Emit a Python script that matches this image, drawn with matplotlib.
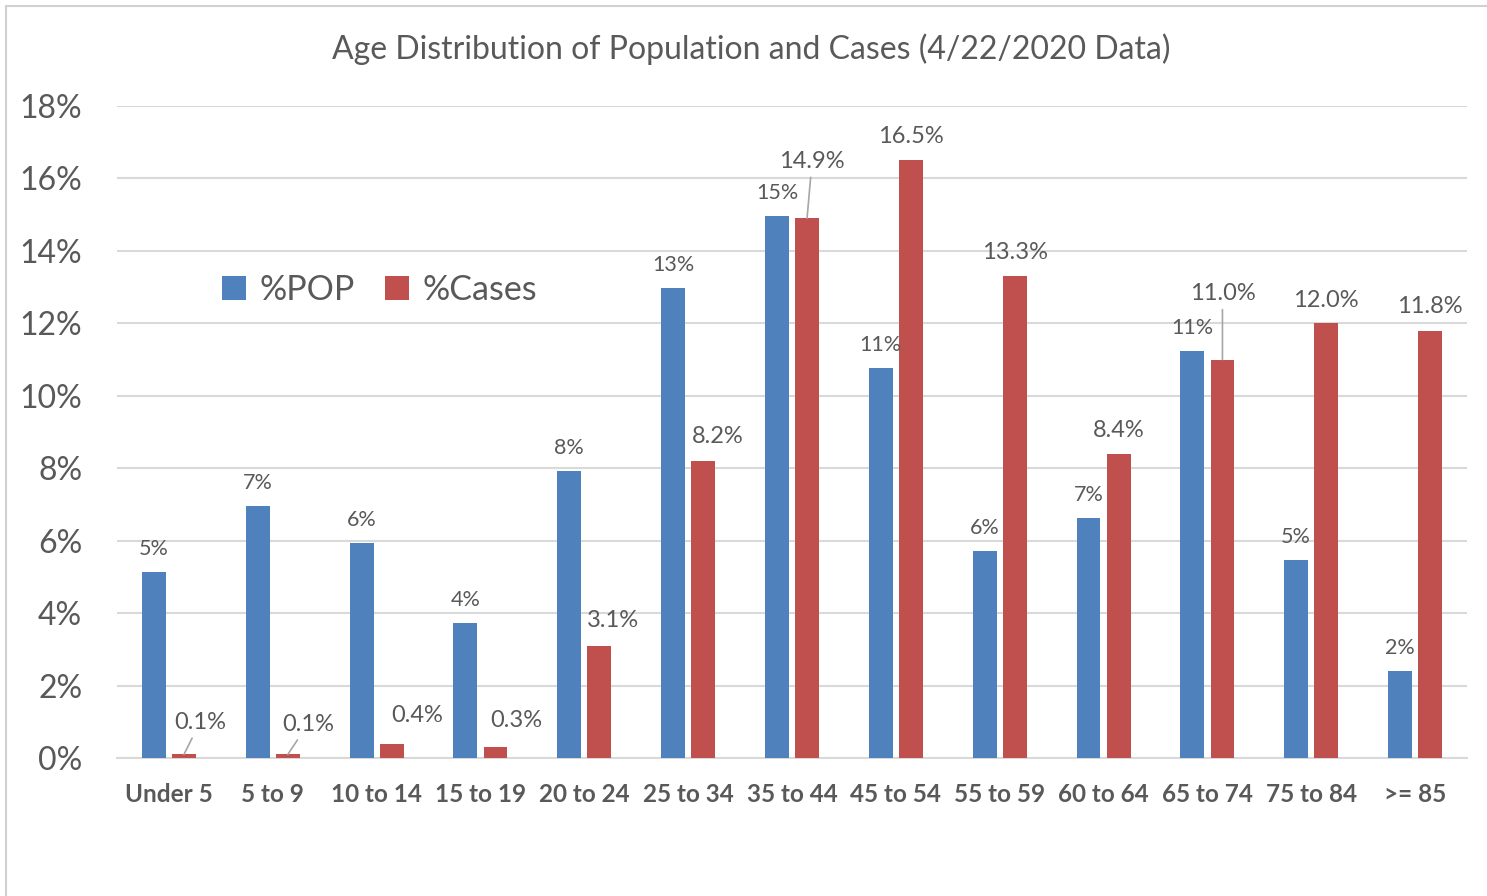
import matplotlib
matplotlib.use('Agg')
import matplotlib.pyplot as plt
import numpy as np
from matplotlib.patches import Rectangle

# 数据
categories = ['Under 5', '5 to 9', '10 to 14', '15 to 19', '20 to 24', '25 to 34',
              '35 to 44', '45 to 54', '55 to 59', '60 to 64', '65 to 74', '75 to 84', '>= 85']
pop_pct = [5.14, 6.96, 5.94, 3.73, 7.93, 12.98, 14.97, 10.77, 5.72, 6.63, 11.24, 5.47, 2.40]
cases_pct = [0.1, 0.1, 0.4, 0.3, 3.1, 8.2, 14.9, 16.5, 13.3, 8.4, 11.0, 12.0, 11.8]

# 标签偏移（像素），以及是否画引线
cases_offsets = [(16, 32), (20, 30), (26, 28), (21, 27), (14, 25), (15, 24), (5, 57),
                 (0, 24), (0, 24), (0, 23), (0, 66), (0, 23), (0, 24)]
cases_leader = [True, True, False, False, False, False, True,
                False, False, False, True, False, False]

blue = '#4F81BD'
red = '#C0504D'
text_color = '#595959'
grid_color = '#D9D9D9'

plt.rcParams['font.family'] = ['Lato', 'DejaVu Sans']

fig = plt.figure(figsize=(14.87, 8.96), dpi=100)
ax = fig.add_axes([117 / 1487, 138 / 896, 1350 / 1487, 652 / 896])

# 外框
fig.patches.append(Rectangle((6 / 1487, -0.1), 1.2, (890 / 896) + 0.1, transform=fig.transFigure,
                             fill=False, edgecolor='#D0D0D0', linewidth=1.5))

x = np.arange(len(categories))
w = 0.23
off = 0.145
ax.bar(x - off, pop_pct, w, color=blue, label='%POP', zorder=3)
ax.bar(x + off, cases_pct, w, color=red, label='%Cases', zorder=3)

for i, v in enumerate(pop_pct):
    ax.annotate('%d%%' % round(v), xy=(x[i] - off, v), xytext=(0, 23), textcoords='offset pixels',
                ha='center', va='center', fontsize=15.5, color=text_color)

for i, v in enumerate(cases_pct):
    dx, dy = cases_offsets[i]
    props = None
    if cases_leader[i]:
        props = dict(arrowstyle='-', color='#A6A6A6', lw=1.2, shrinkA=2, shrinkB=0)
    ax.annotate('%.1f%%' % v, xy=(x[i] + off, v), xytext=(dx, dy), textcoords='offset pixels',
                ha='center', va='center', fontsize=17, color=text_color, arrowprops=props)

ax.set_xlim(-0.5, len(categories) - 0.5)
ax.set_ylim(0, 18)
ax.set_yticks(range(0, 19, 2))
ax.set_yticklabels(['%d%%' % t for t in range(0, 19, 2)])
ax.set_xticks(x)
ax.set_xticklabels(categories, fontweight='bold')
ax.tick_params(axis='y', length=0, labelsize=23, labelcolor=text_color, pad=25)
ax.tick_params(axis='x', length=0, labelsize=17.5, labelcolor=text_color, pad=18)
ax.grid(axis='y', color=grid_color, linewidth=1.5, zorder=0)
for s in ['top', 'right', 'left']:
    ax.spines[s].set_visible(False)
ax.spines['bottom'].set_color(grid_color)
ax.spines['bottom'].set_linewidth(1.5)

ax.legend(loc='center left', bbox_to_anchor=(0.055, 0.718), ncol=2, frameon=False,
          fontsize=24.5, labelcolor=text_color, handlelength=0.7, handleheight=0.7,
          handletextpad=0.4, columnspacing=0.9)

fig.text(751 / 1487, 1 - 49 / 896, 'Age Distribution of Population and Cases (4/22/2020 Data)',
         ha='center', va='center', fontsize=23, color=text_color)

fig.savefig('out.png', dpi=100)
